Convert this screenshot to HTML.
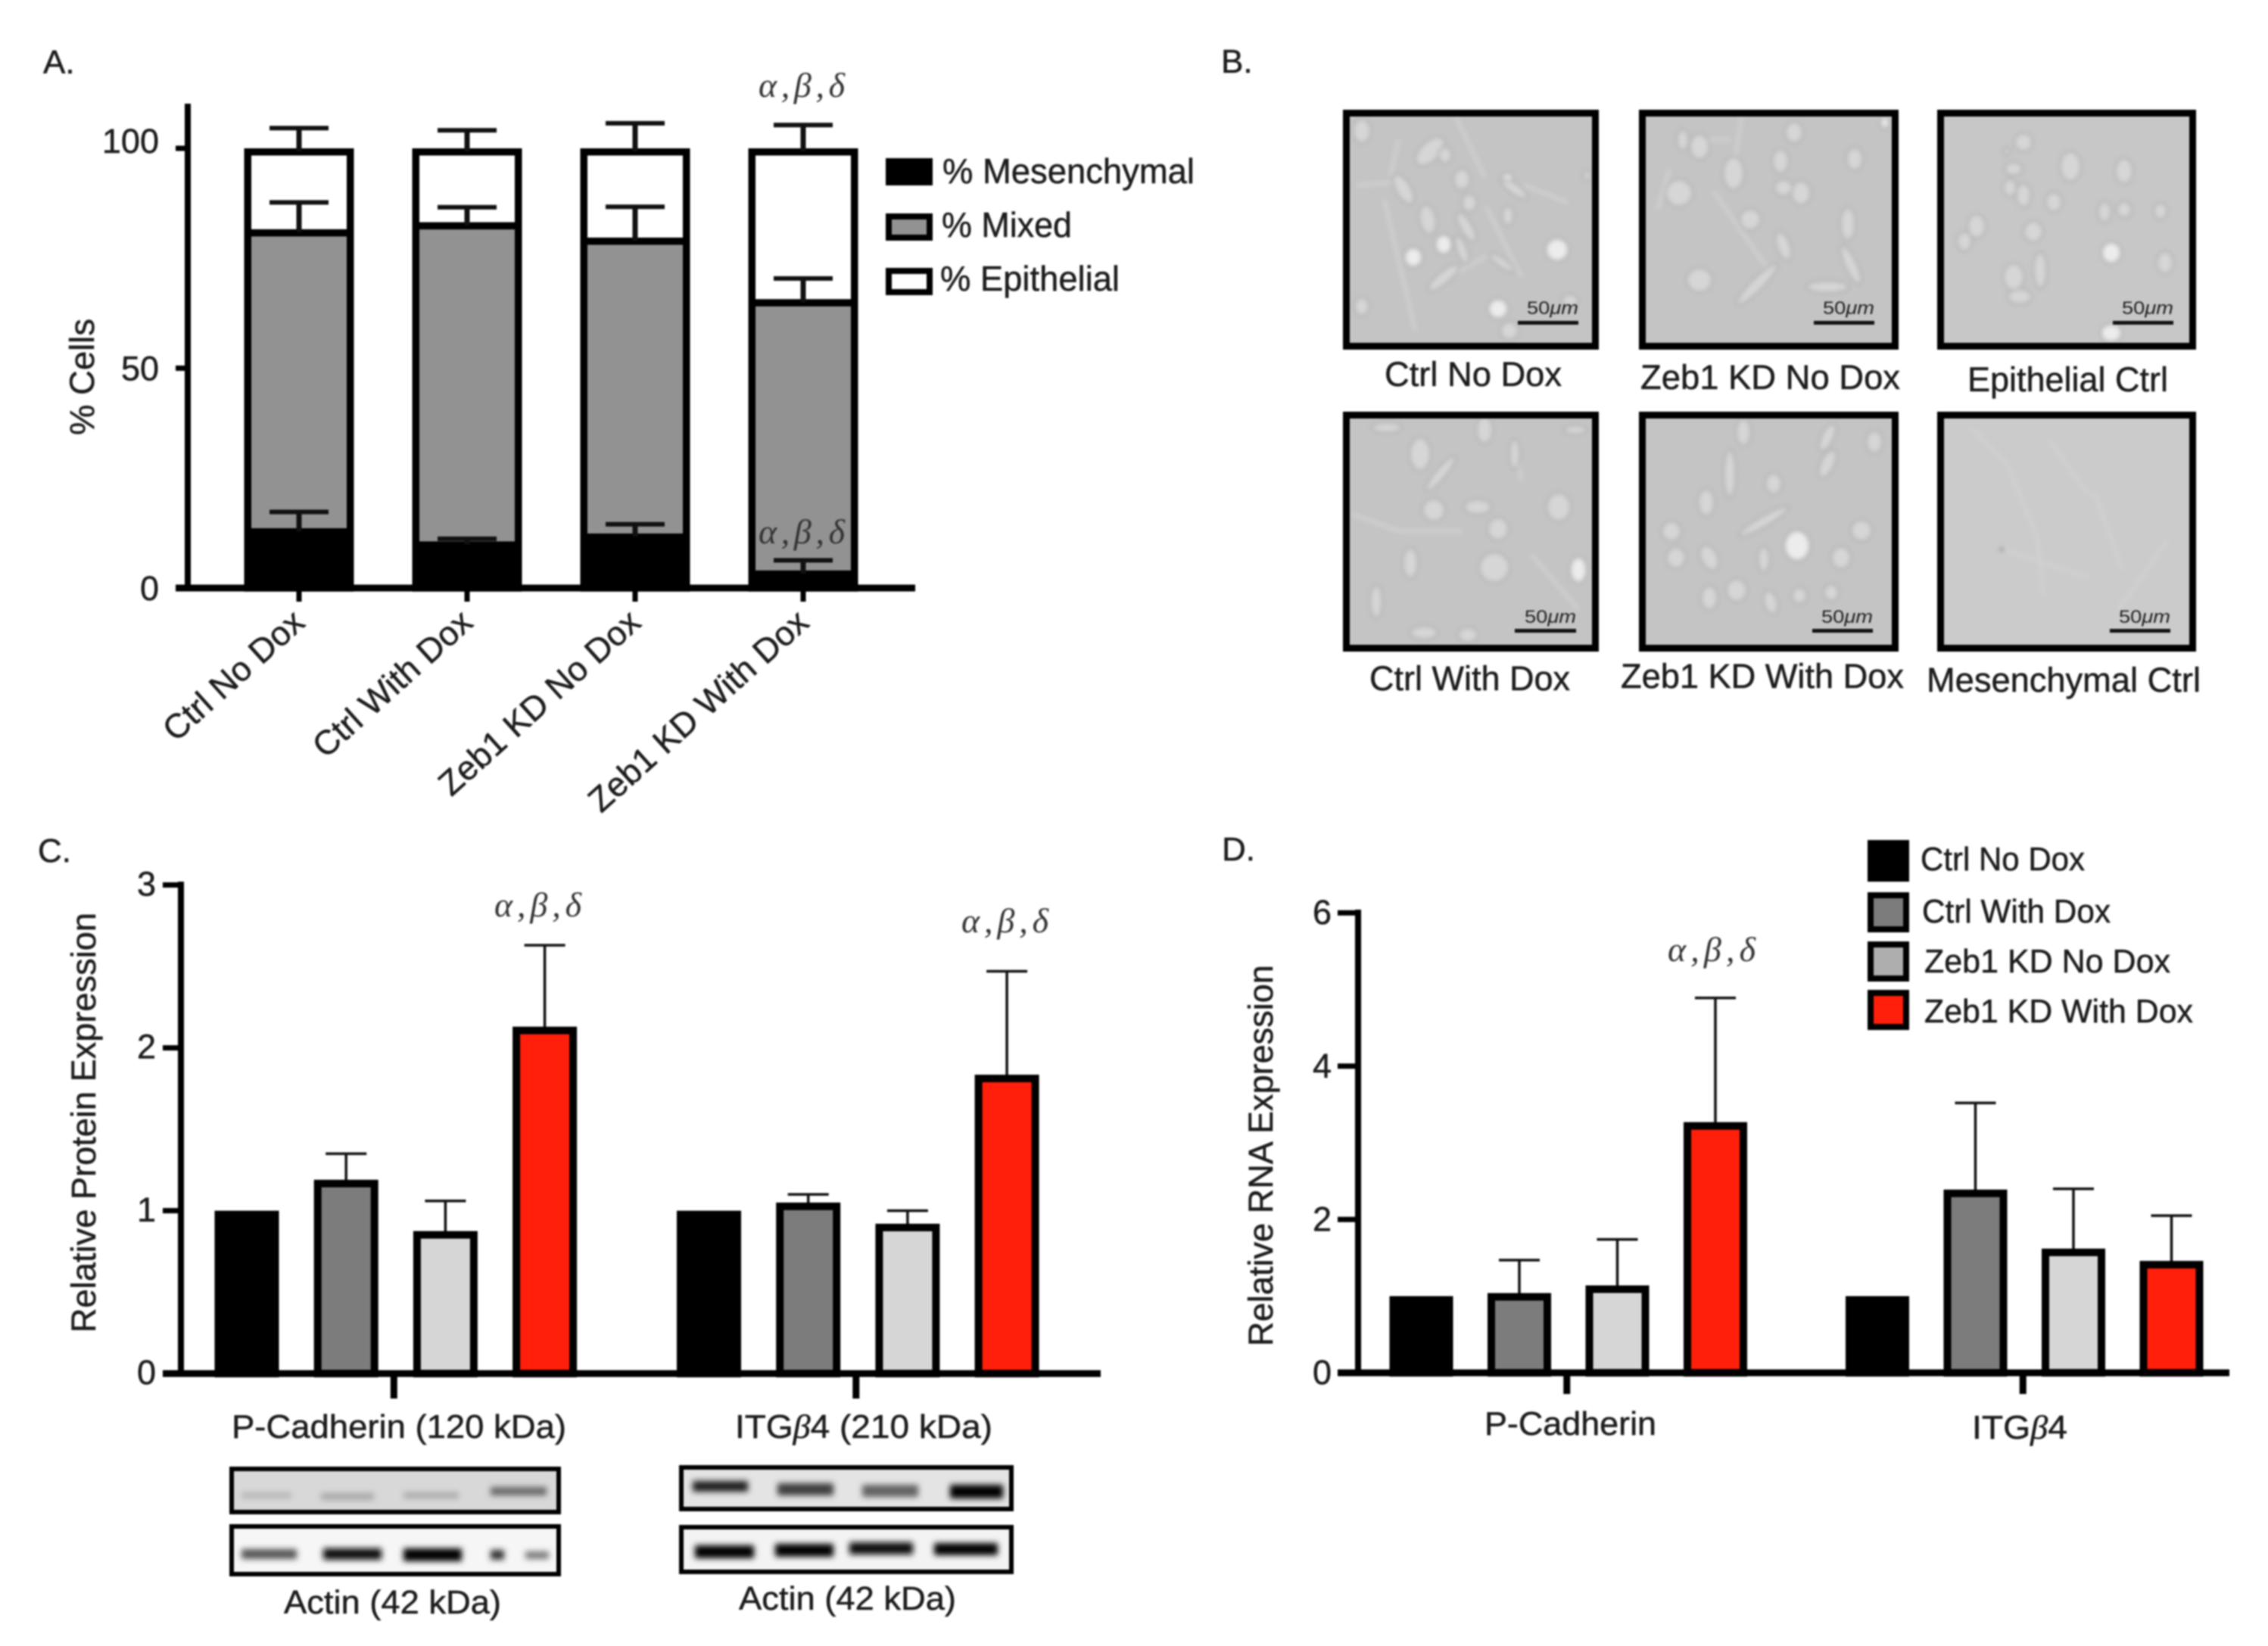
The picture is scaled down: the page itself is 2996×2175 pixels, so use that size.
<!DOCTYPE html>
<html lang="en">
<head>
<meta charset="utf-8">
<title>Zeb1 knockdown figure</title>
<style>
html,body{margin:0;padding:0;background:#fff;}
svg{display:block;font-family:"Liberation Sans",sans-serif;}
#figure{filter:blur(1.1px);}
.t{fill:#1c1c1c;stroke:#1c1c1c;stroke-width:0.5;}
.gk{font-family:"Liberation Serif",serif;font-style:italic;fill:#333;}
.c{fill:#d6d6d6;stroke:#b4b4b4;stroke-width:3;}
.b{fill:#ececec;stroke:#b0b0b0;stroke-width:3;}
.l{fill:none;stroke:#d2d2d2;stroke-width:4;stroke-linecap:round;}
.sb{fill:#111;}
.sl{font-size:24px;fill:#222;}
</style>
</head>
<body>
<svg id="figure" xmlns="http://www.w3.org/2000/svg" width="2996" height="2175" viewBox="0 0 2996 2175">
<defs>
<filter id="soft" x="-10%" y="-10%" width="120%" height="120%"><feGaussianBlur stdDeviation="3"/></filter>
<filter id="bandblur" x="-20%" y="-100%" width="140%" height="300%"><feGaussianBlur stdDeviation="4"/></filter>
<clipPath id="micclip"><rect x="6" y="6" width="326" height="305"/></clipPath>
</defs>
<rect width="2996" height="2175" fill="#fff"/>

<!-- Panel letters -->
<text class="t" x="57" y="97" font-size="44">A.</text>
<text class="t" x="1613" y="96" font-size="44">B.</text>
<text class="t" x="50" y="1139" font-size="44">C.</text>
<text class="t" x="1614" y="1137" font-size="44">D.</text>

<!-- Panel A static -->
<g id="panelA">
<text class="t" transform="translate(124,575) rotate(-90)" font-size="45" textLength="154" lengthAdjust="spacingAndGlyphs">% Cells</text>
<rect x="1174" y="213" width="54" height="28" fill="#000" stroke="#000" stroke-width="8"/>
<text class="t" x="1245" y="242" font-size="46" textLength="333" lengthAdjust="spacingAndGlyphs">% Mesenchymal</text>
<rect x="1174" y="286" width="54" height="28" fill="#929292" stroke="#000" stroke-width="8"/>
<text class="t" x="1244" y="313" font-size="46" textLength="172" lengthAdjust="spacingAndGlyphs">% Mixed</text>
<rect x="1174" y="358" width="54" height="28" fill="#fff" stroke="#000" stroke-width="8"/>
<text class="t" x="1242" y="384" font-size="46" textLength="237" lengthAdjust="spacingAndGlyphs">% Epithelial</text>
<text class="gk" x="1002" y="128" font-size="46" textLength="114" lengthAdjust="spacing">α,β,δ</text>
</g>

<!-- Panel B micrographs -->
<g>
<g transform="translate(1774,145)">
<rect x="4" y="4" width="330" height="309" fill="#c4c4c4"/>
<g clip-path="url(#micclip)"><g filter="url(#soft)">
<path class="l" d="M150 12L187 88M73 42L63 85M20 100L70 95M55 120L95 290M128 228L192 192M240 100L295 122M190 130L235 220"/>
<ellipse class="c" cx="25" cy="28" rx="12" ry="16"/><ellipse class="c" cx="115" cy="55" rx="13" ry="24" transform="rotate(45 115 55)"/><ellipse class="c" cx="135" cy="60" rx="9" ry="11"/><ellipse class="c" cx="157" cy="92" rx="11" ry="14"/><ellipse class="c" cx="80" cy="105" rx="10" ry="22" transform="rotate(-30 80 105)"/><ellipse class="c" cx="112" cy="145" rx="11" ry="20" transform="rotate(-10 112 145)"/><ellipse class="c" cx="167" cy="123" rx="10" ry="12"/><ellipse class="c" cx="163" cy="155" rx="8" ry="22" transform="rotate(-30 163 155)"/><ellipse class="b" cx="133" cy="178" rx="11" ry="13"/><ellipse class="c" cx="157" cy="185" rx="7" ry="20" transform="rotate(-20 157 185)"/><ellipse class="b" cx="93" cy="195" rx="12" ry="13"/><ellipse class="b" cx="217" cy="92" rx="8" ry="8"/><ellipse class="c" cx="227" cy="105" rx="7" ry="20" transform="rotate(-55 227 105)"/><ellipse class="c" cx="218" cy="140" rx="8" ry="13"/><ellipse class="b" cx="283" cy="185" rx="15" ry="15"/><ellipse class="b" cx="205" cy="263" rx="13" ry="13"/><ellipse class="c" cx="210" cy="202" rx="6" ry="20" transform="rotate(-55 210 202)"/><ellipse class="c" cx="133" cy="222" rx="8" ry="26" transform="rotate(50 133 222)"/><ellipse class="c" cx="25" cy="260" rx="10" ry="12"/><ellipse class="c" cx="220" cy="292" rx="12" ry="12"/><ellipse class="c" cx="300" cy="252" rx="11" ry="8"/><ellipse class="c" cx="323" cy="87" rx="6" ry="6"/>
</g></g>
<rect x="4.500" y="4.500" width="329" height="308" fill="none" stroke="#000" stroke-width="9"/>
<text class="sl" x="243" y="270" textLength="68" lengthAdjust="spacingAndGlyphs">50<tspan font-style="italic">μm</tspan></text>
<rect class="sb" x="231" y="279" width="80" height="5"/>
</g>
<g transform="translate(2165,145)">
<rect x="4" y="4" width="335" height="309" fill="#c4c4c4"/>
<g clip-path="url(#micclip)"><g filter="url(#soft)">
<path class="l" d="M135 12L128 60M40 80L25 130M100 110L170 210M60 40L120 40"/>
<ellipse class="c" cx="80" cy="49" rx="13" ry="17"/><ellipse class="c" cx="58" cy="40" rx="8" ry="14"/><ellipse class="c" cx="53" cy="110" rx="18" ry="18"/><ellipse class="c" cx="125" cy="84" rx="14" ry="22"/><ellipse class="c" cx="187" cy="68" rx="11" ry="16"/><ellipse class="c" cx="285" cy="65" rx="11" ry="15"/><ellipse class="c" cx="205" cy="30" rx="12" ry="14"/><ellipse class="c" cx="214" cy="110" rx="13" ry="16"/><ellipse class="c" cx="191" cy="103" rx="12" ry="11"/><ellipse class="c" cx="147" cy="145" rx="14" ry="14"/><ellipse class="c" cx="276" cy="151" rx="10" ry="22"/><ellipse class="c" cx="191" cy="180" rx="9" ry="20" transform="rotate(-20 191 180)"/><ellipse class="c" cx="80" cy="225" rx="17" ry="16"/><ellipse class="c" cx="156" cy="231" rx="8" ry="38" transform="rotate(45 156 231)"/><ellipse class="c" cx="249" cy="234" rx="28" ry="8"/><ellipse class="c" cx="280" cy="205" rx="8" ry="28" transform="rotate(-25 280 205)"/><ellipse class="b" cx="325" cy="17" rx="6" ry="8"/>
</g></g>
<rect x="4.500" y="4.500" width="334" height="308" fill="none" stroke="#000" stroke-width="9"/>
<text class="sl" x="243" y="270" textLength="68" lengthAdjust="spacingAndGlyphs">50<tspan font-style="italic">μm</tspan></text>
<rect class="sb" x="231" y="279" width="80" height="5"/>
</g>
<g transform="translate(2559,145)">
<rect x="4" y="4" width="334" height="309" fill="#c7c7c7"/>
<g clip-path="url(#micclip)"><g filter="url(#soft)">
<ellipse class="c" cx="114" cy="43" rx="12" ry="12"/><ellipse class="c" cx="101" cy="78" rx="12" ry="9"/><ellipse class="c" cx="176" cy="75" rx="14" ry="20"/><ellipse class="c" cx="247" cy="81" rx="12" ry="17"/><ellipse class="c" cx="96" cy="103" rx="9" ry="12"/><ellipse class="c" cx="114" cy="113" rx="10" ry="16"/><ellipse class="c" cx="154" cy="122" rx="11" ry="13"/><ellipse class="c" cx="221" cy="135" rx="9" ry="14"/><ellipse class="c" cx="247" cy="132" rx="10" ry="11"/><ellipse class="c" cx="295" cy="134" rx="9" ry="11"/><ellipse class="c" cx="52" cy="154" rx="12" ry="16"/><ellipse class="c" cx="36" cy="174" rx="10" ry="13"/><ellipse class="c" cx="127" cy="161" rx="13" ry="14"/><ellipse class="b" cx="230" cy="189" rx="13" ry="14"/><ellipse class="c" cx="301" cy="202" rx="11" ry="15"/><ellipse class="c" cx="101" cy="221" rx="14" ry="18"/><ellipse class="c" cx="136" cy="212" rx="9" ry="24"/><ellipse class="b" cx="230" cy="295" rx="14" ry="12"/><ellipse class="c" cx="109" cy="247" rx="16" ry="10"/><ellipse class="c" cx="92" cy="55" rx="5" ry="5"/>
</g></g>
<rect x="4.500" y="4.500" width="333" height="308" fill="none" stroke="#000" stroke-width="9"/>
<text class="sl" x="244" y="270" textLength="68" lengthAdjust="spacingAndGlyphs">50<tspan font-style="italic">μm</tspan></text>
<rect class="sb" x="232" y="279" width="80" height="5"/>
</g>
<g transform="translate(1774,544)">
<rect x="4" y="4" width="330" height="309" fill="#c4c4c4"/>
<g clip-path="url(#micclip)"><g filter="url(#soft)">
<path class="l" d="M13 136L75 158L156 158M230 40L235 90M250 190L310 260"/>
<ellipse class="c" cx="102" cy="56" rx="14" ry="22"/><ellipse class="c" cx="187" cy="24" rx="11" ry="18"/><ellipse class="c" cx="129" cy="82" rx="7" ry="30" transform="rotate(40 129 82)"/><ellipse class="c" cx="227" cy="56" rx="7" ry="20"/><ellipse class="c" cx="120" cy="130" rx="15" ry="15"/><ellipse class="c" cx="178" cy="126" rx="18" ry="10"/><ellipse class="c" cx="285" cy="126" rx="16" ry="19"/><ellipse class="c" cx="205" cy="155" rx="14" ry="15"/><ellipse class="c" cx="89" cy="200" rx="10" ry="20"/><ellipse class="c" cx="200" cy="206" rx="20" ry="20"/><ellipse class="b" cx="311" cy="209" rx="11" ry="17"/><ellipse class="c" cx="44" cy="251" rx="8" ry="22"/><ellipse class="c" cx="107" cy="292" rx="18" ry="9"/><ellipse class="c" cx="165" cy="295" rx="13" ry="10"/><ellipse class="c" cx="58" cy="21" rx="20" ry="7"/><ellipse class="c" cx="307" cy="24" rx="15" ry="6"/>
</g></g>
<rect x="4.500" y="4.500" width="329" height="308" fill="none" stroke="#000" stroke-width="9"/>
<text class="sl" x="240" y="279" textLength="68" lengthAdjust="spacingAndGlyphs">50<tspan font-style="italic">μm</tspan></text>
<rect class="sb" x="227" y="287" width="81" height="5"/>
</g>
<g transform="translate(2165,544)">
<rect x="4" y="4" width="335" height="309" fill="#c4c4c4"/>
<g clip-path="url(#micclip)"><g filter="url(#soft)">
<ellipse class="c" cx="43" cy="158" rx="13" ry="13"/><ellipse class="c" cx="49" cy="193" rx="13" ry="14"/><ellipse class="c" cx="93" cy="193" rx="11" ry="18" transform="rotate(-25 93 193)"/><ellipse class="b" cx="209" cy="177" rx="17" ry="20"/><ellipse class="c" cx="294" cy="157" rx="14" ry="14"/><ellipse class="c" cx="267" cy="193" rx="13" ry="15"/><ellipse class="c" cx="178" cy="95" rx="11" ry="14"/><ellipse class="c" cx="120" cy="82" rx="8" ry="32"/><ellipse class="c" cx="249" cy="34" rx="8" ry="20" transform="rotate(25 249 34)"/><ellipse class="c" cx="311" cy="40" rx="11" ry="15"/><ellipse class="c" cx="249" cy="69" rx="9" ry="20" transform="rotate(25 249 69)"/><ellipse class="c" cx="165" cy="145" rx="7" ry="38" transform="rotate(60 165 145)"/><ellipse class="c" cx="89" cy="120" rx="11" ry="18"/><ellipse class="c" cx="93" cy="246" rx="11" ry="16"/><ellipse class="c" cx="129" cy="236" rx="14" ry="15"/><ellipse class="c" cx="174" cy="252" rx="9" ry="16" transform="rotate(-15 174 252)"/><ellipse class="c" cx="212" cy="243" rx="10" ry="11"/><ellipse class="c" cx="254" cy="239" rx="10" ry="11"/><ellipse class="c" cx="165" cy="195" rx="8" ry="17"/><ellipse class="c" cx="138" cy="27" rx="10" ry="18"/>
</g></g>
<rect x="4.500" y="4.500" width="334" height="308" fill="none" stroke="#000" stroke-width="9"/>
<text class="sl" x="241" y="279" textLength="68" lengthAdjust="spacingAndGlyphs">50<tspan font-style="italic">μm</tspan></text>
<rect class="sb" x="229" y="287" width="80" height="5"/>
</g>
<g transform="translate(2559,544)">
<rect x="4" y="4" width="334" height="309" fill="#cbcbcb"/>
<g clip-path="url(#micclip)"><g filter="url(#soft)">
<path class="l" d="M47 24L92 69L132 165L140 240M208 107L244 207M92 184L199 219M303 171L240 261M150 40L200 110"/>
<circle cx="85" cy="182" r="3" fill="#999"/>
</g></g>
<rect x="4.500" y="4.500" width="333" height="308" fill="none" stroke="#000" stroke-width="9"/>
<text class="sl" x="240" y="279" textLength="68" lengthAdjust="spacingAndGlyphs">50<tspan font-style="italic">μm</tspan></text>
<rect class="sb" x="228" y="287" width="80" height="5"/>
</g>
<text class="t" x="1829" y="510" font-size="45" textLength="234" lengthAdjust="spacingAndGlyphs">Ctrl No Dox</text>
<text class="t" x="2167" y="514" font-size="45" textLength="343" lengthAdjust="spacingAndGlyphs">Zeb1 KD No Dox</text>
<text class="t" x="2599" y="517" font-size="45" textLength="265" lengthAdjust="spacingAndGlyphs">Epithelial Ctrl</text>
<text class="t" x="1809" y="912" font-size="45" textLength="265" lengthAdjust="spacingAndGlyphs">Ctrl With Dox</text>
<text class="t" x="2141" y="909" font-size="45" textLength="374" lengthAdjust="spacingAndGlyphs">Zeb1 KD With Dox</text>
<text class="t" x="2545" y="914" font-size="45" textLength="362" lengthAdjust="spacingAndGlyphs">Mesenchymal Ctrl</text>
</g>

<!-- Panel C static -->
<g id="panelC">
<text class="t" transform="translate(126,1761) rotate(-90)" font-size="45" textLength="555" lengthAdjust="spacingAndGlyphs">Relative Protein Expression</text>
<text class="gk" x="653" y="1211" font-size="46" textLength="115" lengthAdjust="spacing">α,β,δ</text>
<text class="gk" x="1270" y="1232" font-size="46" textLength="115" lengthAdjust="spacing">α,β,δ</text>
<text class="t" x="306" y="1900" font-size="44" textLength="442" lengthAdjust="spacingAndGlyphs">P-Cadherin (120 kDa)</text>
<text class="t" x="971" y="1900" font-size="44" textLength="340" lengthAdjust="spacingAndGlyphs">ITG<tspan font-family="Liberation Serif" font-style="italic">β</tspan>4 (210 kDa)</text>
</g>

<!-- Western blots -->
<g>
<g>
<rect x="306" y="1941" width="432" height="57" fill="#d8d8d8"/>
<g filter="url(#bandblur)"><rect x="319" y="1972" width="66" height="8" fill="#b6b6b6"/><rect x="424" y="1973" width="70" height="9" fill="#a6a6a6"/><rect x="533" y="1972" width="73" height="8" fill="#a8a8a8"/><rect x="648" y="1965" width="74" height="11" fill="#666"/></g>
<rect x="306" y="1941" width="432" height="57" fill="none" stroke="#000" stroke-width="6"/>
</g>
<g>
<rect x="306" y="2017" width="432" height="63" fill="#f6f6f6"/>
<g filter="url(#bandblur)"><rect x="319" y="2047" width="73" height="13" fill="#555"/><rect x="427" y="2046" width="77" height="15" fill="#111"/><rect x="533" y="2046" width="77" height="17" fill="#000"/><rect x="648" y="2048" width="18" height="13" fill="#333"/><rect x="694" y="2050" width="31" height="10" fill="#777"/></g>
<rect x="306" y="2017" width="432" height="63" fill="none" stroke="#000" stroke-width="6"/>
</g>
<g>
<rect x="900" y="1939" width="436" height="55" fill="#e4e4e4"/>
<g filter="url(#bandblur)"><rect x="915" y="1957" width="73" height="14" fill="#1a1a1a"/><rect x="1027" y="1960" width="74" height="16" fill="#3c3c3c"/><rect x="1139" y="1962" width="74" height="16" fill="#626262"/><rect x="1255" y="1962" width="70" height="18" fill="#000"/></g>
<rect x="900" y="1939" width="436" height="55" fill="none" stroke="#000" stroke-width="6"/>
</g>
<g>
<rect x="900" y="2018" width="436" height="59" fill="#f3f3f3"/>
<g filter="url(#bandblur)"><rect x="918" y="2042" width="78" height="17" fill="#000"/><rect x="1024" y="2040" width="77" height="17" fill="#000"/><rect x="1122" y="2038" width="84" height="16" fill="#0a0a0a"/><rect x="1234" y="2039" width="84" height="16" fill="#000"/></g>
<rect x="900" y="2018" width="436" height="59" fill="none" stroke="#000" stroke-width="6"/>
</g>
<text class="t" x="375" y="2132" font-size="44" textLength="287" lengthAdjust="spacingAndGlyphs">Actin (42 kDa)</text>
<text class="t" x="976" y="2127" font-size="44" textLength="287" lengthAdjust="spacingAndGlyphs">Actin (42 kDa)</text>
</g>

<!-- Panel D static -->
<g id="panelD">
<text class="t" transform="translate(1681,1779) rotate(-90)" font-size="45" textLength="504" lengthAdjust="spacingAndGlyphs">Relative RNA Expression</text>
<text class="gk" x="2203" y="1270" font-size="46" textLength="116" lengthAdjust="spacing">α,β,δ</text>
<text class="t" x="1961" y="1896" font-size="44" textLength="227" lengthAdjust="spacingAndGlyphs">P-Cadherin</text>
<text class="t" x="2605" y="1901" font-size="44" textLength="126" lengthAdjust="spacingAndGlyphs">ITG<tspan font-family="Liberation Serif" font-style="italic">β</tspan>4</text>
<rect x="2467" y="1110" width="55" height="55" fill="#000"/>
<text class="t" x="2537" y="1150" font-size="44" textLength="217" lengthAdjust="spacingAndGlyphs">Ctrl No Dox</text>
<rect x="2471" y="1183" width="47" height="45" fill="#7c7c7c" stroke="#000" stroke-width="8"/>
<text class="t" x="2539" y="1219" font-size="44" textLength="249" lengthAdjust="spacingAndGlyphs">Ctrl With Dox</text>
<rect x="2471" y="1248" width="47" height="45" fill="#aeaeae" stroke="#000" stroke-width="8"/>
<text class="t" x="2542" y="1285" font-size="44" textLength="325" lengthAdjust="spacingAndGlyphs">Zeb1 KD No Dox</text>
<rect x="2471" y="1312" width="47" height="45" fill="#ff1f0a" stroke="#000" stroke-width="8"/>
<text class="t" x="2542" y="1351" font-size="44" textLength="355" lengthAdjust="spacingAndGlyphs">Zeb1 KD With Dox</text>
</g>
</svg>

<script>
// Panel A data (percent of cells per condition)
const stackCategories = ['Ctrl No Dox', 'Ctrl With Dox', 'Zeb1 KD No Dox', 'Zeb1 KD With Dox'];
const mesenchymalValues = [13.6, 10.6, 12.4, 4.0];
const mixedValues = [68.0, 72.6, 67.3, 61.7];
const epithelialValues = [18.4, 16.8, 20.3, 34.3];
const mesenchymalErrors = [3.7, 0.6, 2.1, 2.3];
const mixedErrors = [6.1, 3.4, 7.0, 4.7];
const epithelialErrors = [4.6, 4.1, 5.7, 5.3];
const stackTicks = [0, 50, 100];

// Panel C data (relative protein expression)
const proteinGroups = ['P-Cadherin', 'ITGb4'];
const proteinCtrlNoDox = [1, 1];
const proteinCtrlWithDox = [1.19, 1.05];
const proteinZebNoDox = [0.875, 0.92];
const proteinZebWithDox = [2.13, 1.835];
const proteinErrCtrlWithDox = [0.16, 0.05];
const proteinErrZebNoDox = [0.185, 0.08];
const proteinErrZebWithDox = [0.5, 0.635];
const proteinTicks = [0, 1, 2, 3];

// Panel D data (relative RNA expression)
const rnaGroups = ['P-Cadherin', 'ITGb4'];
const rnaCtrlNoDox = [1, 1];
const rnaCtrlWithDox = [1.04, 2.39];
const rnaZebNoDox = [1.14, 1.62];
const rnaZebWithDox = [3.27, 1.46];
const rnaErrCtrlWithDox = [0.43, 1.13];
const rnaErrZebNoDox = [0.6, 0.78];
const rnaErrZebWithDox = [1.62, 0.59];
const rnaTicks = [0, 2, 4, 6];

const NS = 'http://www.w3.org/2000/svg';
function svgEl(tag, attrs, parent) {
  const el = document.createElementNS(NS, tag);
  for (const k in attrs) el.setAttribute(k, attrs[k]);
  parent.appendChild(el);
  return el;
}
function slug(s) { return s.toLowerCase().replace(/[^a-z0-9]+/g, '-'); }

function drawErrorBar(parent, cx, yTop, yBase, capW, stemW, capH) {
  const stem = svgEl('rect', {x: cx - stemW / 2, y: yTop, width: stemW, height: yBase - yTop, fill: '#111'}, parent);
  
  
  const cap = svgEl('rect', {x: cx - capW / 2, y: yTop - capH / 2, width: capW, height: capH, fill: '#111'}, parent);
  
  
}

function drawAxisLine(parent, x1, y1, x2, y2, w, name) {
  const line = svgEl('line', {x1: x1, y1: y1, x2: x2, y2: y2, stroke: '#000', 'stroke-width': w}, parent);
  
  
}

function drawTickLabel(parent, label, x, y, size) {
  const t = svgEl('text', {x: x, y: y, 'font-size': size, 'text-anchor': 'end', fill: '#1c1c1c', stroke: '#1c1c1c', 'stroke-width': 0.5}, parent);
  t.textContent = label;
  
  
}

/* ---------- Panel A ---------- */
(function () {
  const g = document.getElementById('panelA');
  const yA = v => 777 - v * 5.81;
  const xA = i => 395 + i * 222;
  const barW = 145, sw = 9.5;

  stackCategories.forEach((name, i) => {
    const cx = xA(i);
    const tops = [mesenchymalValues[i],
      mesenchymalValues[i] + mixedValues[i],
      mesenchymalValues[i] + mixedValues[i] + epithelialValues[i]];
    const errs = [mesenchymalErrors[i], mixedErrors[i], epithelialErrors[i]];
    const fills = ['#000', '#929292', '#fff'];
    const names = ['bar-mesenchymal', 'bar-mixed', 'bar-epithelial'];

    let base = 0;
    tops.forEach((top, k) => {
      const y0 = yA(top) + sw / 2;
      const y1 = yA(base) - (k === 0 ? 0 : -sw / 2);
      const r = svgEl('rect', {x: cx - barW / 2 + sw / 2, y: y0, width: barW - sw, height: Math.max(0, y1 - y0), fill: fills[k], stroke: '#000', 'stroke-width': sw}, g);
      
      
      base = top;
    });

    tops.forEach((top, k) => drawErrorBar(g, cx, yA(top + errs[k]), yA(top) + 4, 78, 7, 6));

    const lab = svgEl('text', {'font-size': 45, 'text-anchor': 'end', fill: '#1c1c1c', stroke: '#1c1c1c', 'stroke-width': 0.5, transform: 'translate(' + (cx + 10) + ',826) rotate(-42)'}, g);
    lab.textContent = name;
    
    
    drawAxisLine(g, cx, 777, cx, 795, 7, 'x-tick');
  });

  drawAxisLine(g, 248, 137, 248, 781, 8, 'y-axis-line');
  drawAxisLine(g, 232, 777, 1209, 777, 9, 'x-axis-line');
  stackTicks.forEach(v => {
    drawAxisLine(g, 232, yA(v), 248, yA(v), 7, 'y-tick');
    drawTickLabel(g, String(v), 210, yA(v) + (v === 100 ? 6 : 16), 45);
  });

  const sig = svgEl('text', {x: 1002, y: 718, 'font-size': 46, textLength: 114, lengthAdjust: 'spacing', class: 'gk'}, g);
  sig.textContent = 'α,β,δ';
  
  
})();

/* ---------- Grouped bar panels ---------- */
function drawGrouped(g, cfg) {
  const fills = ['#000', '#7c7c7c', '#d6d6d6', '#ff1f0a'];
  const seriesNames = ['ctrl-no-dox', 'ctrl-with-dox', 'zeb1-kd-no-dox', 'zeb1-kd-with-dox'];
  const sw = 10;
  cfg.groups.forEach((groupName, gi) => {
    cfg.series.forEach((vals, si) => {
      const cx = cfg.x(gi, si);
      const top = cfg.y(vals[gi]);
      const err = cfg.errors[si] ? cfg.errors[si][gi] : 0;
      if (err > 0) drawErrorBar(g, cx, cfg.y(vals[gi] + err), top + 3, 54, 3.5, 3.5);
      const r = svgEl('rect', {x: cx - cfg.barW / 2 + sw / 2, y: top + sw / 2, width: cfg.barW - sw, height: cfg.y(0) - top - sw / 2, fill: fills[si], stroke: '#000', 'stroke-width': sw}, g);
      
      
    });
    const tx = (cfg.x(gi, 1) + cfg.x(gi, 2)) / 2 + cfg.tickShift;
    drawAxisLine(g, tx, cfg.y(0), tx, cfg.tickEnd, 9, 'group-tick');
  });
  drawAxisLine(g, cfg.axisX, cfg.axisTop, cfg.axisX, cfg.y(0) + 4, 8, 'y-axis-line');
  drawAxisLine(g, cfg.axisLeft, cfg.y(0), cfg.axisRight, cfg.y(0), 9, 'x-axis-line');
  cfg.ticks.forEach(v => {
    drawAxisLine(g, cfg.axisLeft, cfg.y(v), cfg.axisX, cfg.y(v), 7, 'y-tick');
    drawTickLabel(g, String(v), cfg.labelX, cfg.y(v) + cfg.labelDy, 45);
  });
}

drawGrouped(document.getElementById('panelC'), {
  groups: proteinGroups,
  series: [proteinCtrlNoDox, proteinCtrlWithDox, proteinZebNoDox, proteinZebWithDox],
  errors: [null, proteinErrCtrlWithDox, proteinErrZebNoDox, proteinErrZebWithDox],
  ticks: proteinTicks,
  y: v => 1815 - v * 215.2,
  x: (gi, si) => 326 + gi * 610.5 + si * 131.2,
  barW: 85,
  tickShift: -2.5,
  tickEnd: 1848,
  axisX: 239,
  axisTop: 1165,
  axisLeft: 215,
  axisRight: 1454,
  labelX: 206,
  labelDy: 14
});

drawGrouped(document.getElementById('panelD'), {
  groups: rnaGroups,
  series: [rnaCtrlNoDox, rnaCtrlWithDox, rnaZebNoDox, rnaZebWithDox],
  errors: [null, rnaErrCtrlWithDox, rnaErrZebNoDox, rnaErrZebWithDox],
  ticks: rnaTicks,
  y: v => 1814 - v * 101.3,
  x: (gi, si) => 1877.5 + gi * 602.5 + si * 129.5,
  barW: 84,
  tickShift: -2,
  tickEnd: 1842,
  axisX: 1794,
  axisTop: 1202,
  axisLeft: 1767,
  axisRight: 2945,
  labelX: 1759,
  labelDy: 15
});
</script>
</body>
</html>
